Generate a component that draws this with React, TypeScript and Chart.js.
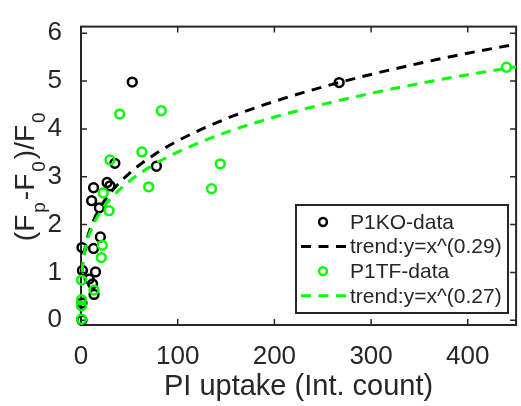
import React, { useEffect, useRef } from 'react';
import { Chart, registerables } from 'chart.js';
Chart.register(...registerables);

// ---- data ----
const koX = [53, 267, 35, 78, 27, 30, 13, 11, 19, 20, 13, 1, 15, 1.5, 8.5, 12, 13.5, 1, 1];
const koY = [4.98, 4.97, 3.28, 3.22, 2.88, 2.81, 2.77, 2.5, 2.35, 1.74, 1.5, 1.52, 1.01, 1.04, 0.86, 0.76, 0.54, 0.36, 0.0];
const tfX = [440, 40, 83, 63, 30, 144, 70, 135, 23, 29, 22, 21, 0.5, 13.5, 0.5, 0.5, 0.5];
const tfY = [5.29, 4.31, 4.38, 3.52, 3.35, 3.27, 2.79, 2.75, 2.66, 2.29, 1.57, 1.31, 0.84, 0.63, 0.43, 0.3, 0.02];
const trendX = [1, 2, 3, 5, 7, 10, 15, 20, 30, 50, 75, 100, 150, 200, 250, 300, 350, 400, 450];
const koTrendY = [1, 1.22, 1.371, 1.587, 1.748, 1.936, 2.175, 2.363, 2.654, 3.073, 3.452, 3.75, 4.213, 4.575, 4.877, 5.14, 5.372, 5.583, 5.774];
const tfTrendY = [1, 1.208, 1.35, 1.551, 1.701, 1.875, 2.095, 2.266, 2.53, 2.909, 3.25, 3.516, 3.928, 4.247, 4.514, 4.745, 4.949, 5.134, 5.3];
const xTicks = [0, 100, 200, 300, 400];
const yTicks = [0, 1, 2, 3, 4, 5, 6];
const seriesLabels = ['P1KO-data', 'trend:y=x^(0.29)', 'P1TF-data', 'trend:y=x^(0.27)'];
const xTitle = 'PI uptake (Int. count)';
const yTitleParts: [string, boolean][] = [['(F', false], ['p', true], ['-F', false], ['0', true], [')/F', false], ['0', true]];

const FONT = '"Liberation Sans", Arial, Helvetica, sans-serif';
const AXIS = '#262626';
const GREEN = '#00ff00';

const pts = (xs: number[], ys: number[]) => xs.map((x, i) => ({ x, y: ys[i] }));

const boxPlugin = {
  id: 'matlabBox',
  beforeDatasetsDraw(chart: any) {
    const { ctx, chartArea: a, scales } = chart;
    ctx.save();
    ctx.strokeStyle = AXIS;
    ctx.lineWidth = 2;
    ctx.strokeRect(a.left, a.top, a.right - a.left, a.bottom - a.top);
    ctx.lineWidth = 1.5;
    const tl = 6;
    ctx.beginPath();
    xTicks.forEach((v) => {
      const px = scales.x.getPixelForValue(v);
      ctx.moveTo(px, a.bottom); ctx.lineTo(px, a.bottom - tl);
      ctx.moveTo(px, a.top); ctx.lineTo(px, a.top + tl);
    });
    yTicks.forEach((v) => {
      const py = scales.y.getPixelForValue(v);
      ctx.moveTo(a.left, py); ctx.lineTo(a.left + tl, py);
      ctx.moveTo(a.right, py); ctx.lineTo(a.right - tl, py);
    });
    ctx.stroke();
    ctx.restore();
  },
  afterDraw(chart: any) {
    const { ctx, chartArea: a } = chart;
    // y title with subscripts
    ctx.save();
    const mainF = `28px ${FONT}`;
    const subF = `19px ${FONT}`;
    let total = 0;
    const widths = yTitleParts.map(([t, s]) => {
      ctx.font = s ? subF : mainF;
      const w = ctx.measureText(t).width + 2;
      total += w;
      return w;
    });
    ctx.translate(34, (a.top + a.bottom) / 2);
    ctx.rotate(-Math.PI / 2);
    ctx.fillStyle = AXIS;
    ctx.textBaseline = 'alphabetic';
    let cx = -total / 2;
    yTitleParts.forEach(([t, s], i) => {
      ctx.font = s ? subF : mainF;
      ctx.fillText(t, cx, s ? 11 : 0);
      cx += widths[i];
    });
    ctx.restore();

    // legend
    ctx.save();
    const bx = 296, by = 205, bw = 212, bh = 108;
    ctx.fillStyle = '#ffffff';
    ctx.fillRect(bx, by, bw, bh);
    ctx.strokeStyle = AXIS;
    ctx.lineWidth = 2;
    ctx.strokeRect(bx, by, bw, bh);
    const rowH = 24.6;
    chart.data.datasets.forEach((ds: any, i: number) => {
      const cy = by + 17 + i * rowH;
      if (ds.showLine) {
        ctx.strokeStyle = ds.borderColor;
        ctx.lineWidth = ds.borderWidth;
        ctx.setLineDash(ds.borderDash);
        ctx.beginPath();
        ctx.moveTo(bx + 5, cy);
        ctx.lineTo(bx + 52, cy);
        ctx.stroke();
        ctx.setLineDash([]);
      } else {
        ctx.strokeStyle = ds.borderColor;
        ctx.lineWidth = ds.borderWidth;
        ctx.beginPath();
        ctx.arc(bx + 27, cy, ds.pointRadius - 0.5, 0, Math.PI * 2);
        ctx.stroke();
      }
      ctx.fillStyle = AXIS;
      ctx.font = `21px ${FONT}`;
      ctx.textBaseline = 'middle';
      ctx.fillText(ds.label, bx + 54, cy + 1);
    });
    ctx.restore();
  },
};

export default function App() {
  const ref = useRef<HTMLCanvasElement>(null);
  useEffect(() => {
    if (!ref.current) return;
    const scatterStyle = (color: string) => ({
      showLine: false,
      pointStyle: 'circle',
      pointRadius: 4.4,
      pointBorderWidth: 2.5,
      borderWidth: 2.5,
      pointBackgroundColor: 'rgba(0,0,0,0)',
      backgroundColor: 'rgba(0,0,0,0)',
      borderColor: color,
      pointBorderColor: color,
      clip: false as any,
    });
    const lineStyle = (color: string) => ({
      showLine: true,
      pointRadius: 0,
      borderColor: color,
      borderWidth: 3,
      borderDash: [10, 7.5],
      cubicInterpolationMode: 'monotone' as const,
      fill: false,
    });
    const chart = new Chart(ref.current, {
      type: 'scatter',
      data: {
        datasets: [
          { label: seriesLabels[0], data: pts(koX, koY), order: 4, ...scatterStyle('#000000') },
          { label: seriesLabels[1], data: pts(trendX, koTrendY), order: 3, ...lineStyle('#000000') },
          { label: seriesLabels[2], data: pts(tfX, tfY), order: 2, ...scatterStyle(GREEN) },
          { label: seriesLabels[3], data: pts(trendX, tfTrendY), order: 1, ...lineStyle(GREEN) },
        ] as any,
      },
      options: {
        animation: false,
        responsive: false,
        devicePixelRatio: 1,
        layout: { padding: { top: 7, left: 0, right: 0, bottom: 0 } },
        plugins: { legend: { display: false }, tooltip: { enabled: false } },
        scales: {
          x: {
            type: 'linear',
            min: 0,
            max: 450,
            afterBuildTicks: (s: any) => { s.ticks = xTicks.map((v) => ({ value: v })); },
            afterFit: (s: any) => { s.height = 81; },
            grid: { display: false },
            border: { display: false },
            ticks: { font: { family: FONT, size: 26 }, color: AXIS, padding: 8, maxRotation: 0 },
            title: { display: true, text: xTitle, color: AXIS, font: { family: FONT, size: 29 }, padding: { top: 0, bottom: 2 } },
          },
          y: {
            type: 'linear',
            min: -0.1,
            max: 6.14,
            afterBuildTicks: (s: any) => { s.ticks = yTicks.map((v) => ({ value: v })); },
            afterFit: (s: any) => { s.width = 81; },
            grid: { display: false },
            border: { display: false },
            ticks: { font: { family: FONT, size: 26 }, color: AXIS, padding: 11 },
          },
        },
      } as any,
      plugins: [boxPlugin],
    });
    return () => chart.destroy();
  }, []);
  return (
    <div style={{ position: 'fixed', left: 0, top: 0, width: 521, height: 406, overflow: 'hidden', background: '#fff' }}>
      <canvas ref={ref} width={523} height={406} style={{ display: 'block', width: 523, height: 406 }} />
    </div>
  );
}
